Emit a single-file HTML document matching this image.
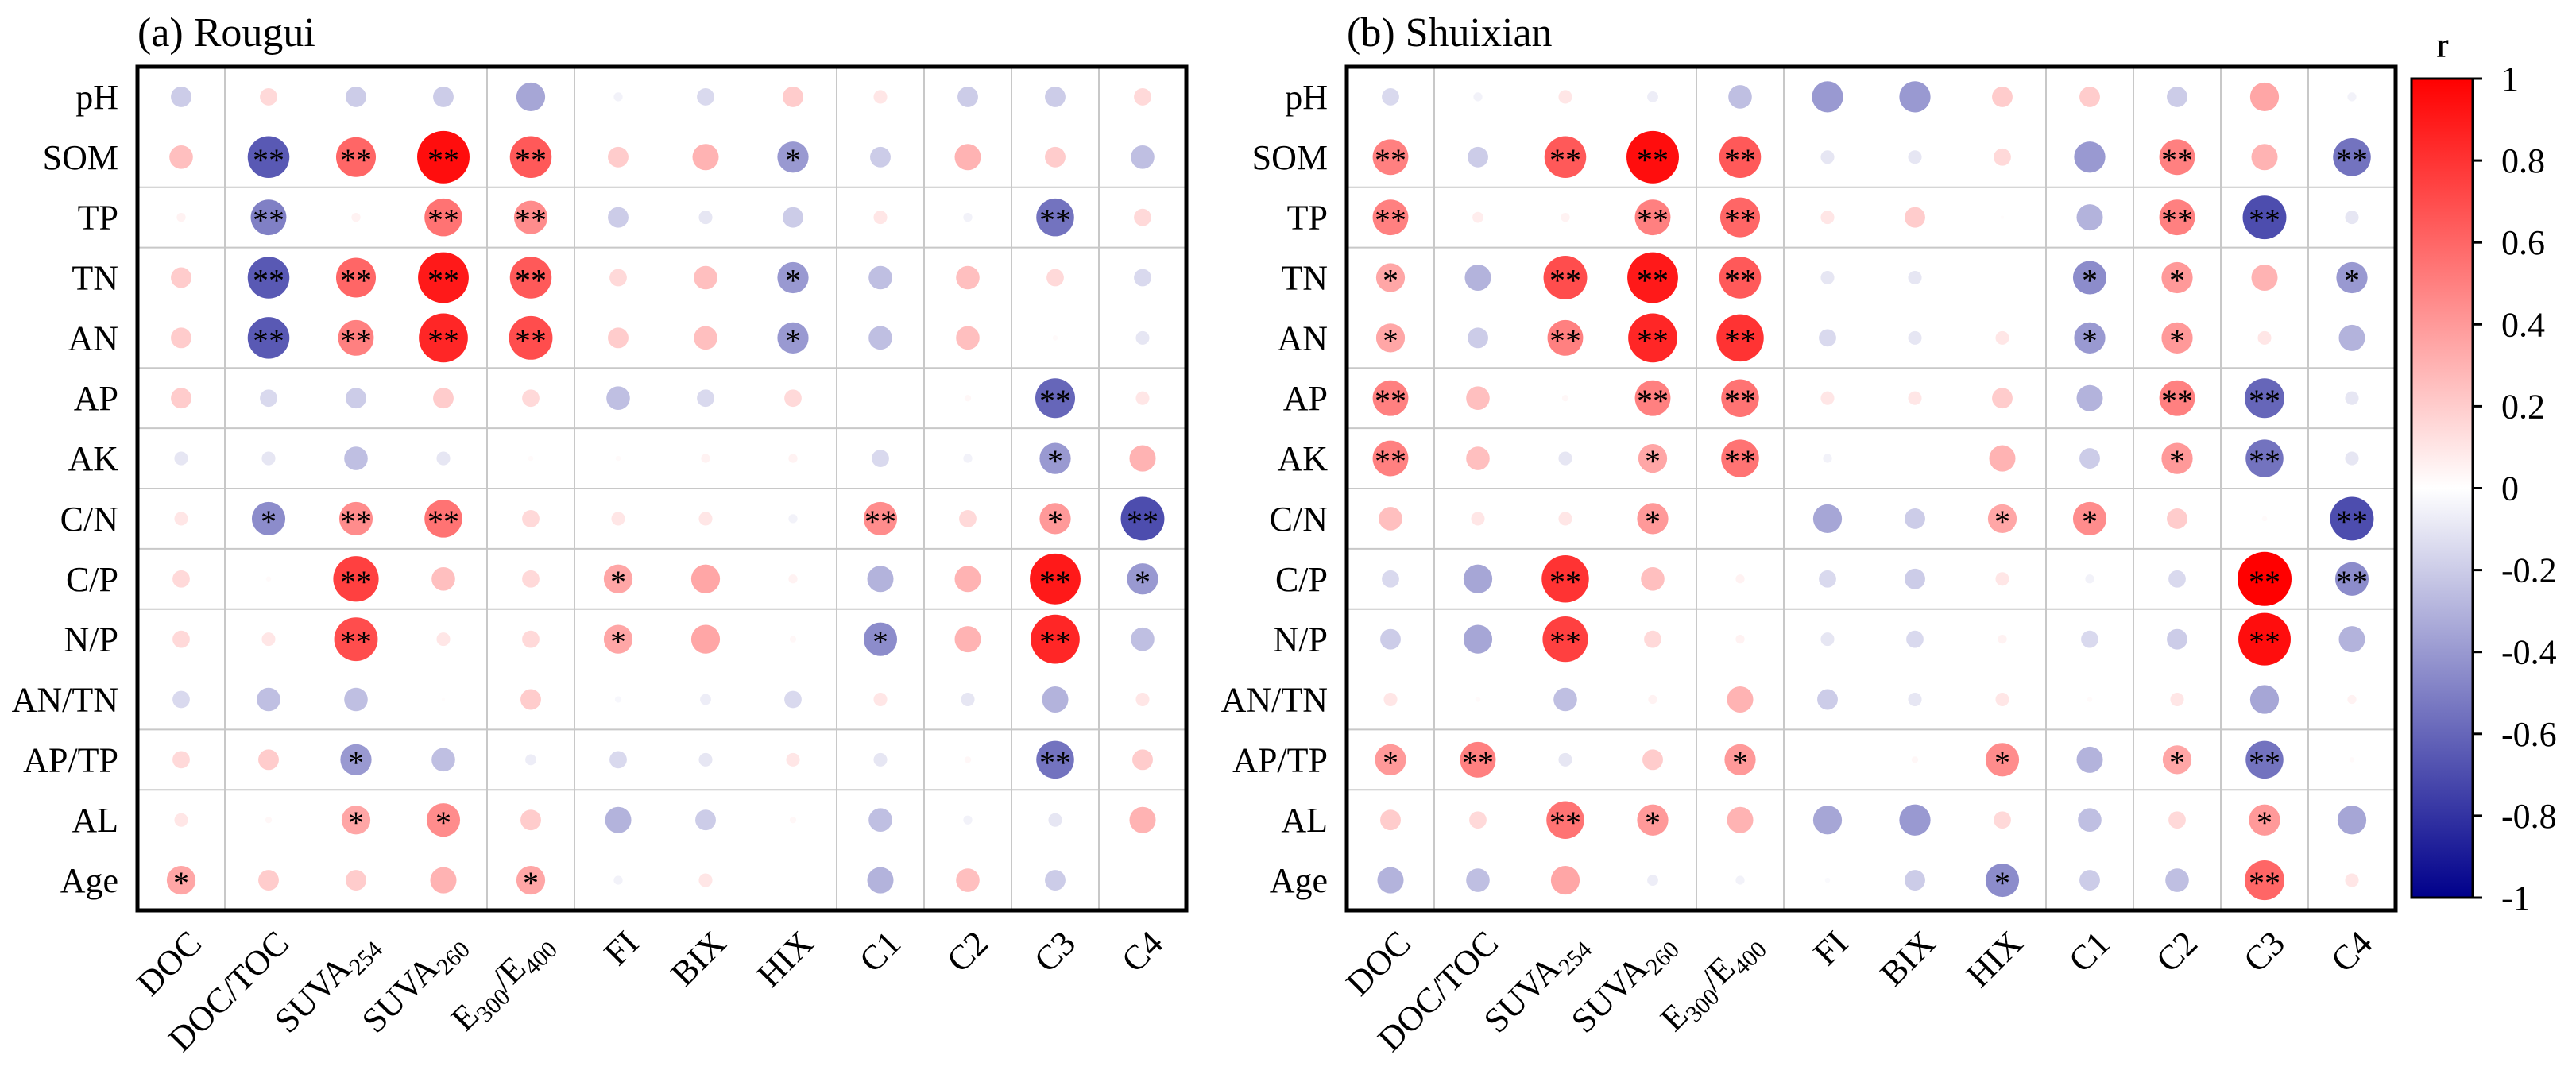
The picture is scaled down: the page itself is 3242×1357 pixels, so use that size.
<!DOCTYPE html>
<html><head><meta charset="utf-8"><style>
html,body{margin:0;padding:0;background:#fff;}
svg{display:block;font-family:"Liberation Serif",serif;}
</style></head><body>
<svg id="chart" width="3242" height="1357" viewBox="0 0 3242 1357" xmlns="http://www.w3.org/2000/svg">
<defs>
<linearGradient id="cbgrad" x1="0" y1="0" x2="0" y2="1">
<stop offset="0" stop-color="rgb(255,0,0)"/>
<stop offset="0.5" stop-color="rgb(255,255,255)"/>
<stop offset="1" stop-color="rgb(0,0,139)"/>
</linearGradient>
</defs>
</svg>
<script>
const rowLabels = ["pH","SOM","TP","TN","AN","AP","AK","C/N","C/P","N/P","AN/TN","AP/TP","AL","Age"];
const colLabels = [["DOC"],["DOC/TOC"],["SUVA","254"],["SUVA","260"],["E","300","/E","400"],["FI"],["BIX"],["HIX"],["C1"],["C2"],["C3"],["C4"]];
const rougui = [
[-0.2,0.15,-0.2,-0.2,-0.35,-0.05,-0.15,0.2,0.1,-0.2,-0.2,0.15],
[0.25,-0.65,0.6,0.95,0.65,0.2,0.3,-0.4,-0.2,0.3,0.2,-0.25],
[0.05,-0.5,0.05,0.55,0.45,-0.2,-0.1,-0.2,0.1,-0.05,-0.55,0.15],
[0.2,-0.65,0.6,0.9,0.65,0.15,0.25,-0.4,-0.25,0.25,0.15,-0.15],
[0.2,-0.65,0.5,0.85,0.7,0.2,0.25,-0.4,-0.25,0.25,0.02,-0.1],
[0.2,-0.15,-0.2,0.2,0.15,-0.25,-0.15,0.15,0,0.03,-0.6,0.1],
[-0.1,-0.1,-0.25,-0.1,0.02,0.02,0.05,0.05,-0.15,-0.05,-0.4,0.3],
[0.1,-0.45,0.45,0.55,0.15,0.1,0.1,-0.05,0.45,0.15,0.4,-0.7],
[0.15,0.02,0.75,0.25,0.15,0.35,0.35,0.05,-0.3,0.3,0.9,-0.4],
[0.15,0.1,0.7,0.1,0.15,0.35,0.35,0.03,-0.45,0.3,0.85,-0.25],
[-0.15,-0.25,-0.25,0.01,0.2,-0.03,-0.07,-0.15,0.1,-0.1,-0.3,0.1],
[0.15,0.2,-0.4,-0.25,-0.07,-0.15,-0.1,0.1,-0.1,0.03,-0.55,0.2],
[0.1,0.03,0.35,0.45,0.2,-0.3,-0.2,0.03,-0.25,-0.05,-0.1,0.3],
[0.35,0.2,0.2,0.3,0.35,-0.05,0.1,0,-0.3,0.25,-0.2,0]];
const rouguiSig = [
["","","","","","","","","","","",""],
["","**","**","**","**","","","*","","","",""],
["","**","","**","**","","","","","","**",""],
["","**","**","**","**","","","*","","","",""],
["","**","**","**","**","","","*","","","",""],
["","","","","","","","","","","**",""],
["","","","","","","","","","","*",""],
["","*","**","**","","","","","**","","*","**"],
["","","**","","","*","","","","","**","*"],
["","","**","","","*","","","*","","**",""],
["","","","","","","","","","","",""],
["","","*","","","","","","","","**",""],
["","","*","*","","","","","","","",""],
["*","","","","*","","","","","","",""]];
const shuixian = [
[-0.15,-0.05,0.1,-0.07,-0.25,-0.4,-0.4,0.2,0.2,-0.2,0.35,-0.05],
[0.5,-0.2,0.65,0.95,0.65,-0.1,-0.1,0.15,-0.4,0.5,0.3,-0.55],
[0.5,0.07,0.05,0.5,0.6,0.1,0.2,0.01,-0.3,0.5,-0.7,-0.1],
[0.35,-0.3,0.7,0.9,0.65,-0.1,-0.1,0,-0.45,0.4,0.3,-0.4],
[0.35,-0.2,0.5,0.85,0.8,-0.15,-0.1,0.1,-0.4,0.4,0.1,-0.3],
[0.5,0.25,0.03,0.5,0.55,0.1,0.1,0.2,-0.3,0.5,-0.6,-0.1],
[0.5,0.25,-0.1,0.35,0.55,-0.05,0,0.3,-0.2,0.4,-0.55,-0.1],
[0.25,0.1,0.1,0.4,0,-0.35,-0.2,0.35,0.45,0.2,0.02,-0.7],
[-0.15,-0.35,0.8,0.25,0.05,-0.15,-0.2,0.1,-0.05,-0.15,1.0,-0.45],
[-0.2,-0.35,0.75,0.15,0.05,-0.1,-0.15,0.05,-0.15,-0.2,0.95,-0.3],
[0.1,0.02,-0.25,0.05,0.3,-0.2,-0.1,0.1,0.02,0.1,-0.35,0.05],
[0.4,0.5,-0.1,0.2,0.4,0,0.03,0.45,-0.3,0.35,-0.55,0.02],
[0.2,0.15,0.55,0.4,0.3,-0.35,-0.4,0.15,-0.25,0.15,0.4,-0.35],
[-0.3,-0.25,0.35,-0.07,-0.05,-0.02,-0.2,-0.45,-0.2,-0.25,0.6,0.1]];
const shuixianSig = [
["","","","","","","","","","","",""],
["**","","**","**","**","","","","","**","","**"],
["**","","","**","**","","","","","**","**",""],
["*","","**","**","**","","","","*","*","","*"],
["*","","**","**","**","","","","*","*","",""],
["**","","","**","**","","","","","**","**",""],
["**","","","*","**","","","","","*","**",""],
["","","","*","","","","*","*","","","**"],
["","","**","","","","","","","","**","**"],
["","","**","","","","","","","","**",""],
["","","","","","","","","","","",""],
["*","**","","","*","","","*","","*","**",""],
["","","**","*","","","","","","","*",""],
["","","","","","","","*","","","**",""]];
const cbTicks = [1,0.8,0.6,0.4,0.2,0,-0.2,-0.4,-0.6,-0.8,-1];
const cbTickLabels = ["1","0.8","0.6","0.4","0.2","0","-0.2","-0.4","-0.6","-0.8","-1"];

const NS="http://www.w3.org/2000/svg";
const svg=document.getElementById('chart');
function mk(tag,attrs,parent){const e=document.createElementNS(NS,tag);for(const k in attrs)e.setAttribute(k,attrs[k]);(parent||svg).appendChild(e);return e;}
function color(r){const t=Math.min(1,Math.abs(r));
 if(r>=0){const v=Math.round(255*(1-t));return `rgb(255,${v},${v})`;}
 const v=Math.round(255*(1-t));return `rgb(${v},${v},${Math.round(255-116*t)})`;}
const TOP=84,BOT=1146,COLW=110,ROWH=75.857,MAXR=34;
const rad=v=>Math.max(0.5,MAXR*Math.pow(Math.abs(v),0.6));
const hLines=[2,3,5,6,7,8,9,11,12], vLines=[1,4,5,8,9,10,11];

function panel(x0,title,vals,sig,id){
 const g=mk('g',{});
 
 
 const xs=c=>x0+COLW*(c+0.5), ys=r=>TOP+ROWH*(r+0.5);
 const t=mk('text',{x:x0,y:58,'font-size':52,fill:'#000'},g);t.textContent=title;
 
 
 hLines.forEach(i=>{const l=mk('line',{x1:x0,x2:x0+12*COLW,y1:TOP+i*ROWH,y2:TOP+i*ROWH,stroke:'#c8c8c8','stroke-width':2},g);
  });
 vLines.forEach(i=>{const l=mk('line',{y1:TOP,y2:BOT,x1:x0+i*COLW,x2:x0+i*COLW,stroke:'#c8c8c8','stroke-width':2},g);
  });
 vals.forEach((row,ri)=>row.forEach((v,ci)=>{
  const c=mk('circle',{cx:xs(ci),cy:ys(ri),r:rad(v),fill:color(v)},g);
  
  
  if(sig[ri][ci]){const s=mk('text',{x:xs(ci),y:ys(ri)+17,'text-anchor':'middle','font-size':40,fill:'#000'},g);s.textContent=sig[ri][ci];
   
   }
 }));
 const fr=mk('rect',{x:x0,y:TOP,width:12*COLW,height:BOT-TOP,fill:'none',stroke:'#000','stroke-width':5},g);
 
 
 rowLabels.forEach((lb,ri)=>{const t=mk('text',{x:x0-24,y:ys(ri)+15,'text-anchor':'end','font-size':44,fill:'#000'},g);t.textContent=lb;
  
  });
 colLabels.forEach((parts,ci)=>{const ax=xs(ci)+28, ay=1190;
  const t=mk('text',{x:ax,y:ay,'text-anchor':'end','font-size':44,fill:'#000',transform:`rotate(-45 ${ax} ${ay})`},g);
  
  
  parts.forEach((p,pi)=>{const sub=/^\d+$/.test(p);const ts=mk('tspan',sub?{'font-size':30,dy:10}:{dy:pi>0?-10:0},t);ts.textContent=p;});
 });
}
panel(173,'(a) Rougui',rougui,rouguiSig,'rougui');
panel(1695,'(b) Shuixian',shuixian,shuixianSig,'shuixian');

const CBX=3035,CBW=77,CBT=99,CBB=1130;
const cb=mk('rect',{x:CBX,y:CBT,width:CBW,height:CBB-CBT,fill:'url(#cbgrad)',stroke:'#000','stroke-width':3});


const rl=mk('text',{x:3074,y:72,'text-anchor':'middle','font-size':46,fill:'#000'});rl.textContent='r';


const cy=v=>CBT+(1-v)/2*(CBB-CBT);
cbTicks.forEach((v,i)=>{
 const l=mk('line',{x1:CBX+CBW,x2:CBX+CBW+12,y1:cy(v),y2:cy(v),stroke:'#000','stroke-width':3});
 
 
 const t=mk('text',{x:3148,y:cy(v)+15,'font-size':44,fill:'#000'});t.textContent=cbTickLabels[i];
 
 
});
</script>
</body></html>
